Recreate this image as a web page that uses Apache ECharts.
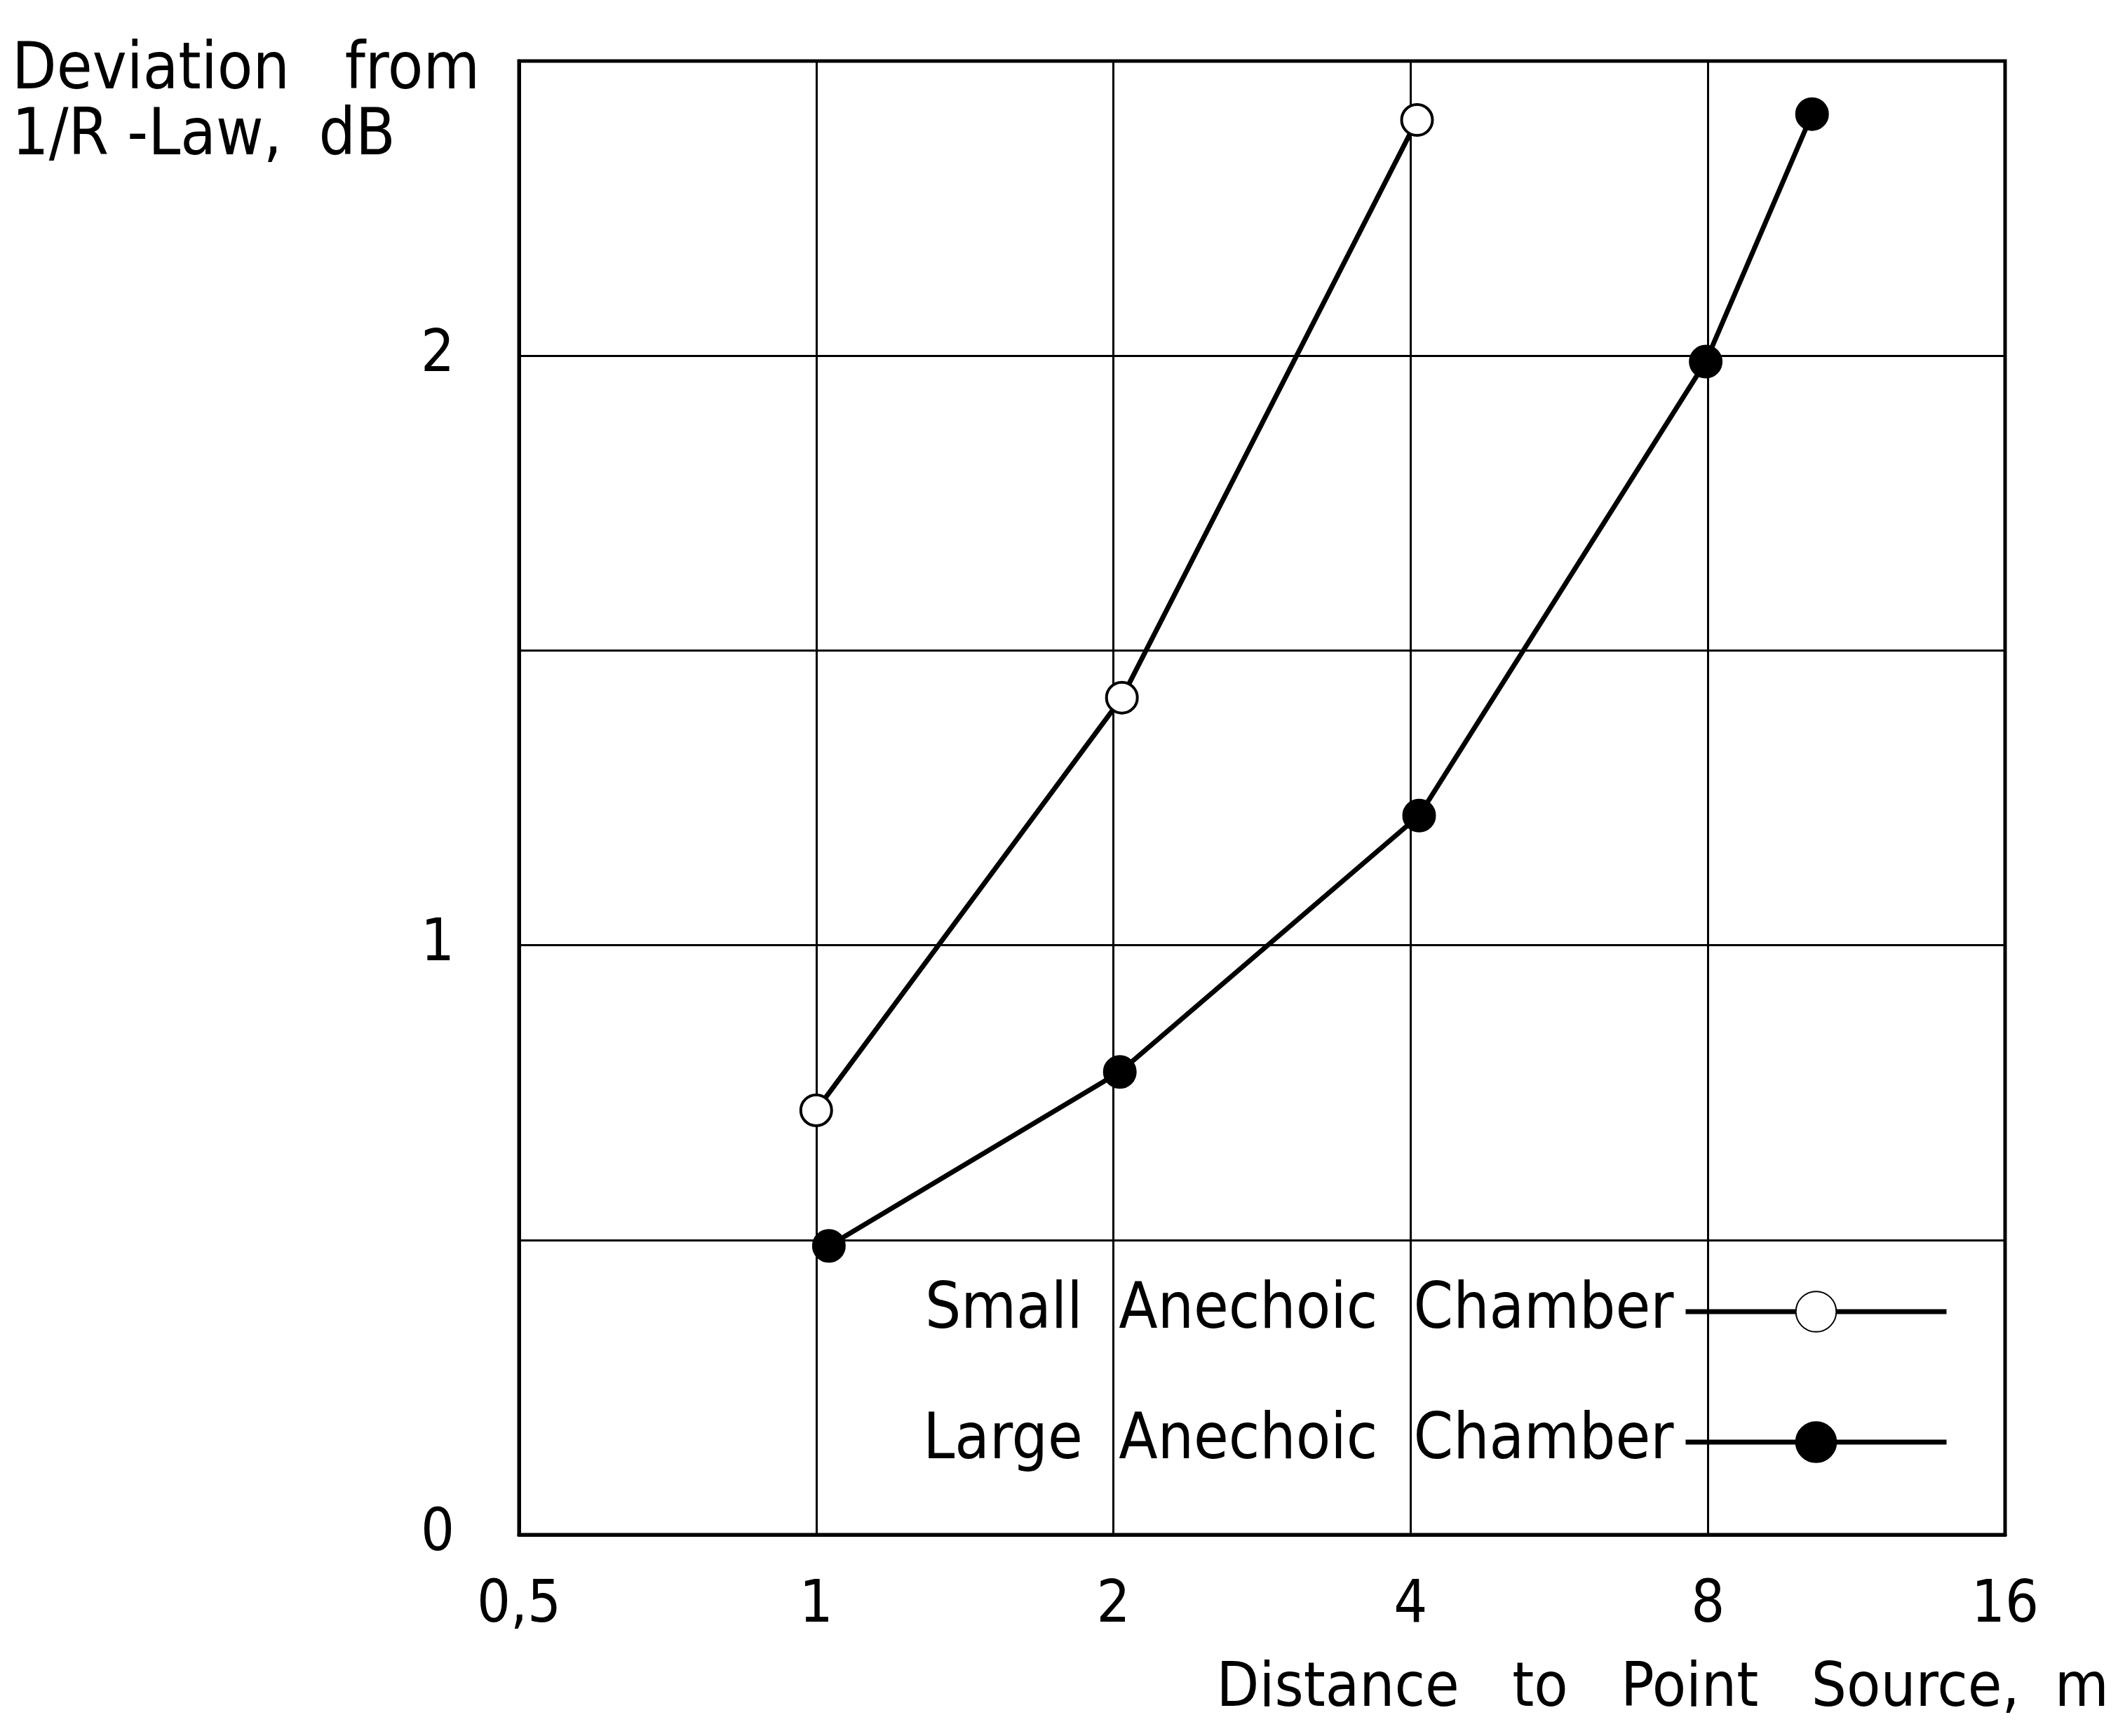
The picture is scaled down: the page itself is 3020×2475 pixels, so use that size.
<!DOCTYPE html>
<html>
<head>
<meta charset="utf-8">
<title>Deviation from 1/R-Law</title>
<script src="https://cdn.jsdelivr.net/npm/echarts@6/dist/echarts.min.js"></script>
<style>
  html, body { margin: 0; padding: 0; background: #fff; }
  #chart { width: 3020px; height: 2475px; }
</style>
</head>
<body>
<div id="chart"></div>
<script>
  // distance (m), deviation (dB)
  const smallDist = [1.0, 2.04, 4.06];
  const smallDev = [0.72, 1.42, 2.40];
  const largeDist = [1.03, 2.03, 4.08, 7.96, 10.2];
  const largeDev = [0.49, 0.785, 1.22, 1.99, 2.41];
  const xTicks = [0.5, 1, 2, 4, 8, 16];
  const yTicks = [0, 1, 2];

  const font = 'DejaVu Sans Condensed';
  const pair = (xs, ys) => xs.map((x, i) => [x, ys[i]]);

  let chart = echarts.init(document.getElementById('chart'));
  const option = {
    backgroundColor: '#fff',
    animation: false,
    title: [
      {
        text: 'Deviation   from\n1/R -Law,  dB',
        left: 12, top: 50,
        textStyle: {fontFamily: font, fontWeight: 'normal', fontSize: 92, lineHeight: 94, color: '#000'}
      },
      {
        text: 'Distance   to   Point   Source,  m',
        right: 8, top: 2360,
        textStyle: {fontFamily: font, fontWeight: 'normal', fontSize: 88, color: '#000'}
      }
    ],
    grid: {
      left: 740, right: 161, top: 87, bottom: 287,
      show: true, borderColor: '#000', borderWidth: 5
    },
    legend: {
      right: 236, top: 1820,
      orient: 'vertical',
      align: 'right',
      itemWidth: 372, itemHeight: 72,
      itemGap: 96,
      lineStyle: {width: 7, color: '#000'},
      textStyle: {fontFamily: font, fontSize: 90, color: '#000', padding: [0, 12, 0, 0]},
      data: ['Small  Anechoic  Chamber', 'Large  Anechoic  Chamber']
    },
    xAxis: {
      type: 'log', logBase: 2, min: 0.5, max: 16,
      axisLine: {lineStyle: {color: '#000', width: 5}},
      axisTick: {show: false},
      splitLine: {show: true, lineStyle: {color: '#000', width: 3}},
      axisLabel: {
        fontFamily: font, fontSize: 84, color: '#000', margin: 60,
        formatter: v => xTicks.indexOf(v) >= 0 ? String(v).replace('.', ',') : ''
      }
    },
    yAxis: {
      type: 'value', min: 0, max: 2.5, interval: 0.5,
      axisLine: {show: true, lineStyle: {color: '#000', width: 5}},
      axisTick: {show: false},
      splitLine: {show: true, lineStyle: {color: '#000', width: 3}},
      axisLabel: {
        fontFamily: font, fontSize: 84, color: '#000', margin: 92,
        formatter: v => yTicks.indexOf(v) >= 0 ? String(v) : ''
      }
    },
    series: [
      {
        name: 'Small  Anechoic  Chamber',
        type: 'line',
        data: pair(smallDist, smallDev),
        symbol: 'circle', symbolSize: 44,
        lineStyle: {color: '#000', width: 7},
        itemStyle: {color: '#fff', borderColor: '#000', borderWidth: 4},
        z: 3
      },
      {
        name: 'Large  Anechoic  Chamber',
        type: 'line',
        data: pair(largeDist, largeDev),
        symbol: 'circle', symbolSize: 46,
        lineStyle: {color: '#000', width: 7},
        itemStyle: {color: '#000', borderColor: '#000', borderWidth: 2},
        z: 3
      }
    ]
  };
  chart.setOption(option, true);
</script>
</body>
</html>
